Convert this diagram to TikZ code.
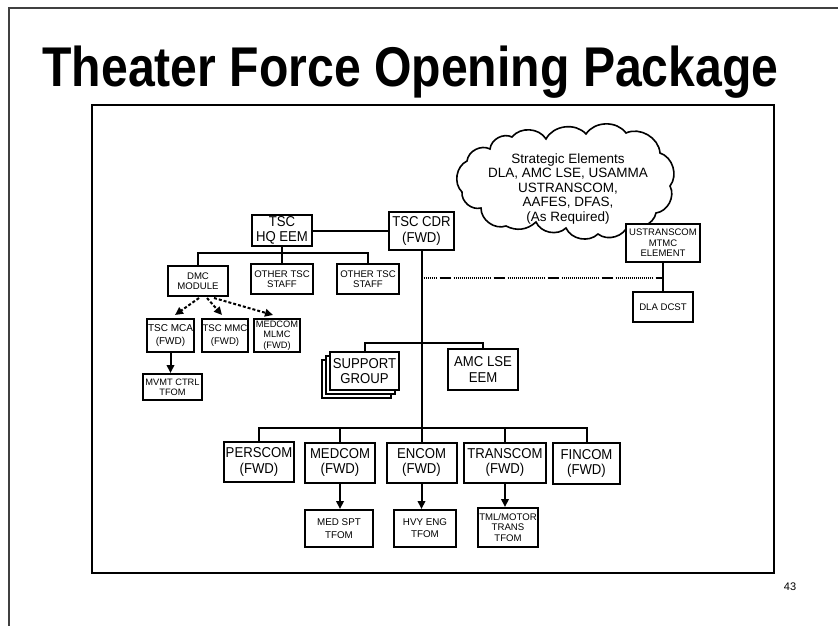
\documentclass[tikz,border=0pt]{standalone}
\usepackage{fontspec}
\setmainfont{Liberation Sans}
\newfontfamily\bigfont{Liberation Sans}[FakeStretch=0.92]
\newfontfamily\titlefont{Liberation Sans}[FakeStretch=0.86]
\usetikzlibrary{arrows.meta,calc}

\tikzset{
  bx/.style={draw, line width=2pt, fill=white, inner sep=0pt, align=center},
  big/.style={bx, font=\bigfont\fontsize{14.3}{15.5}\selectfont},
  sml/.style={bx, font=\fontsize{9.6}{10.5}\selectfont},
  link/.style={line width=2pt},
  arr/.style={link, -{Triangle[length=8pt,width=7.5pt]}},
  dotarr/.style={arr, dash pattern=on 3pt off 2pt},
  puff/.style={bend left=55},
  % long dash followed by a run of fine dots
  dashdots/.style={line width=2pt, dash phase=36pt,
    dash pattern=on 11pt off 3pt on 1pt off 1pt on 1pt off 1pt on 1pt off 1pt on 1pt off 1pt on 1pt off 1pt on 1pt off 1pt on 1pt off 1pt on 1pt off 1pt on 1pt off 1pt on 1pt off 1pt on 1pt off 1pt on 1pt off 1pt on 1pt off 1pt on 1pt off 1pt on 1pt off 1pt on 1pt off 1pt on 1pt off 1pt on 1pt off 1pt on 1pt off 3pt},
}

\begin{document}
\begin{tikzpicture}[x=1pt,y=-1pt]
\useasboundingbox (0,0) rectangle (838,626);

% page frame and title
\draw[line width=2pt, black!75] (9,626) |- (840,8);
\node[font=\titlefont\bfseries\fontsize{56}{60}\selectfont, anchor=base, inner sep=0pt] (title) at (410.5,86) {Theater Force Opening Package};
\draw[line width=2.2pt] (92,105) rectangle (774,573);
\node[font=\fontsize{11}{12}\selectfont] (pg) at (790,587) {43};

% strategic cloud, an outline of puffs
\draw[line width=1.6pt, fill=white]
  (462,192) to[puff] (467,161) to[puff] (490,149) to[puff] (512,137)
  to[puff] (546,139) to[puff] (586,134) to[puff] (626,133)
  to[puff] (660,153) to[puff] (670,186) to[puff] (656,213)
  to[puff] (628,225) to[puff] (598,234) to[puff] (566,228)
  to[puff] (536,222) to[bend left=35] (506,226) to[puff] (481,208)
  to[puff] cycle;
\node[inner sep=0pt, align=center, font=\fontsize{13.5}{14.5}\selectfont] (strat) at (568,189)
  {Strategic Elements\\DLA, AMC LSE, USAMMA\\USTRANSCOM,\\AAFES, DFAS,\\(As Required)};

% headquarters row
\node[big, minimum width=60pt, minimum height=31pt] (hq) at (282,230.5) {TSC\\HQ EEM};
\node[big, minimum width=65pt, minimum height=38pt] (cdr) at (421.5,231) {TSC CDR\\(FWD)};
\draw[link] (hq.east) -- (hq.east -| cdr.west);

% staff under the HQ EEM
\node[sml, minimum width=60pt, minimum height=30pt] (dmc) at (198,281) {DMC\\MODULE};
\node[sml, minimum width=62pt, minimum height=30pt] (ots1) at (282,279) {OTHER TSC\\STAFF};
\node[sml, minimum width=62pt, minimum height=30pt] (ots2) at (368,279) {OTHER TSC\\STAFF};
\draw[link] (hq.south) -- (ots1.north);
\draw[link] (dmc.north) -- ++(0,-12) -| (ots2.north);

% DMC elements
\node[sml, minimum width=47pt, minimum height=33pt, font=\fontsize{10}{12.5}\selectfont] (mca) at (170.5,335.5) {TSC MCA\\(FWD)};
\node[sml, minimum width=46pt, minimum height=33pt, font=\fontsize{9.6}{12.5}\selectfont] (mmc) at (225,335.5) {TSC MMC\\(FWD)};
\node[sml, minimum width=46pt, minimum height=33pt, font=\fontsize{9.3}{10.5}\selectfont] (mlmc) at (277,335.5) {MEDCOM\\MLMC\\(FWD)};
\node[sml, minimum width=59pt, minimum height=26pt, font=\fontsize{9.3}{10}\selectfont] (mvmt) at (172.5,387) {MVMT CTRL\\TFOM};
\draw[dotarr] ($(dmc.south)+(1,1)$) -- ($(mca.north)+(4.5,-3)$);
\draw[dotarr] ($(dmc.south)+(9,1)$) -- ($(mmc.north)+(-3,-3)$);
\draw[dotarr] ($(dmc.south)+(16,1)$) -- ($(mlmc.north)+(-4,-3)$);
\draw[arr] (mca.south) -- (mca.south |- mvmt.north);

% transportation liaison
\node[sml, minimum width=74pt, minimum height=38pt, font=\fontsize{9.5}{10.5}\selectfont] (mtmc) at (663,243) {USTRANSCOM\\MTMC\\ELEMENT};
\node[sml, minimum width=60pt, minimum height=30pt] (dla) at (663,307) {DLA DCST};
\draw[link] (mtmc.south) -- (dla.north);
\coordinate (tap) at (421.5,278);
\coordinate (tie) at (663,278);
\draw[dashdots] (tap) -- (tie);

% support group and AMC LSE
\node[bx, minimum width=69pt, minimum height=38pt] (sgb2) at (356.5,379) {};
\node[bx, minimum width=69pt, minimum height=38pt] (sgb1) at (360.5,375) {};
\node[big, minimum width=69pt, minimum height=38pt] (sg) at (364.5,371) {SUPPORT\\GROUP};
\node[big, minimum width=70pt, minimum height=41pt] (amc) at (483,369.5) {AMC LSE\\EEM};
\draw[link] (sg.north) -- ++(0,-8) -| (amc.north);

% component commands
\coordinate (busb) at (421.5,428);
\node[big, minimum width=70pt, minimum height=40pt] (pers) at (259,462) {PERSCOM\\(FWD)};
\node[big, minimum width=70pt, minimum height=40pt] (med) at (340,462.5) {MEDCOM\\(FWD)};
\node[big, minimum width=70pt, minimum height=40pt] (en) at (421.5,462.5) {ENCOM\\(FWD)};
\node[big, minimum width=82pt, minimum height=40pt] (trans) at (505,462.5) {TRANSCOM\\(FWD)};
\node[big, minimum width=67pt, minimum height=41pt] (fin) at (586.5,463.5) {FINCOM\\(FWD)};
\draw[link] (cdr.south) -- (en.north);
\draw[link] (pers.north) -- (pers.north |- busb) -| (fin.north);
\draw[link] (med.north) -- (med.north |- busb);
\draw[link] (trans.north) -- (trans.north |- busb);

% force opening modules
\node[sml, minimum width=68pt, minimum height=37pt, font=\fontsize{9.8}{12.5}\selectfont] (medt) at (339,528.5) {MED SPT\\TFOM};
\node[sml, minimum width=62pt, minimum height=37pt, font=\fontsize{9.8}{12}\selectfont] (hvyt) at (425,528.5) {HVY ENG\\TFOM};
\node[sml, minimum width=60pt, minimum height=39pt, font=\fontsize{9.6}{10.8}\selectfont] (tmlt) at (508,527.5) {TML/MOTOR\\TRANS\\TFOM};
\draw[arr] (med.south) -- (med.south |- medt.north);
\draw[arr] (en.south) -- (en.south |- hvyt.north);
\draw[arr] (trans.south) -- (trans.south |- tmlt.north);
\end{tikzpicture}
\end{document}
